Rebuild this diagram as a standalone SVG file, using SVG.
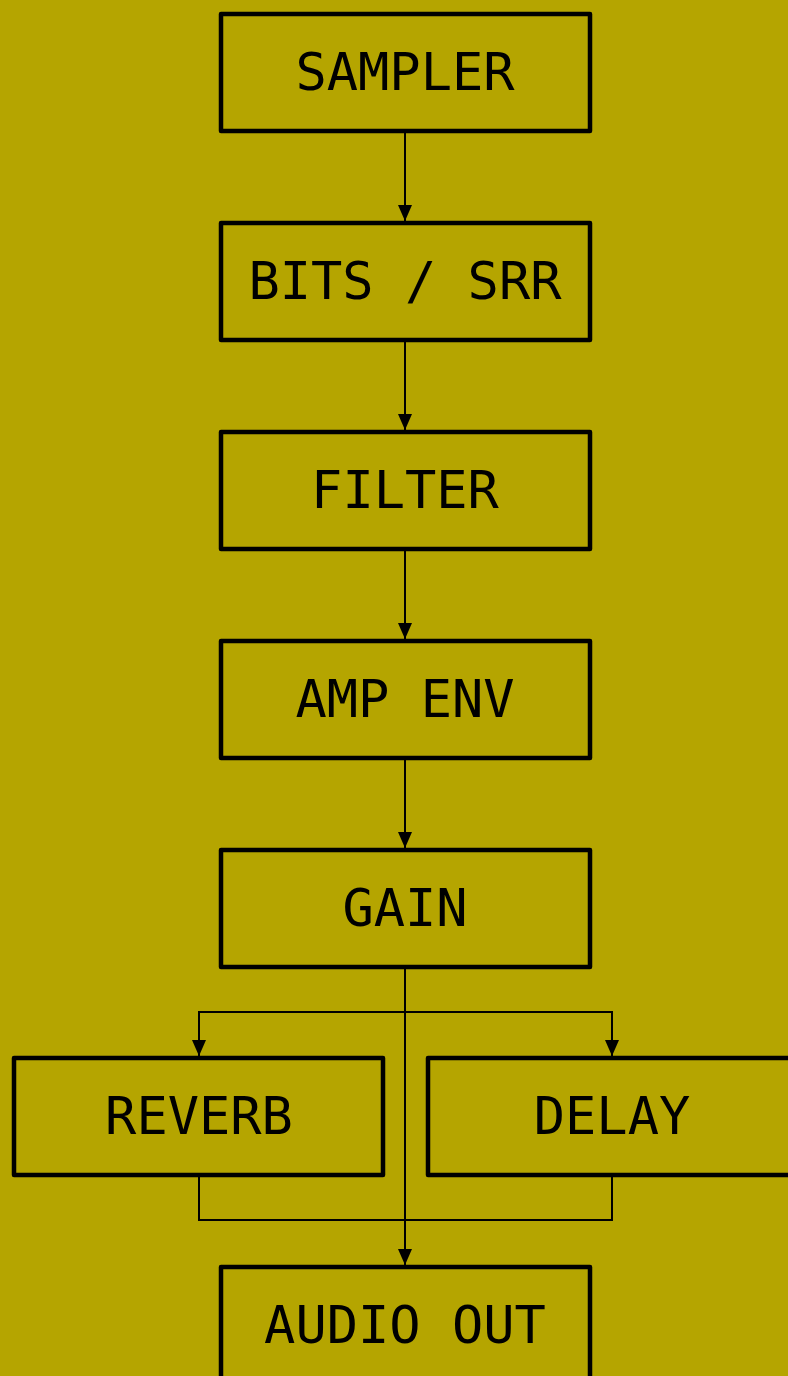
<svg xmlns="http://www.w3.org/2000/svg" width="788" height="1376" viewBox="0 0 788 1376">
<style>
.box{fill:none;stroke:#000;stroke-width:4.5;stroke-linejoin:round}
.lbl{font-family:"DejaVu Sans Mono","Liberation Mono",monospace;font-size:52px;fill:#000;text-anchor:middle}
.c{fill:none;stroke:#000;stroke-width:2}
</style>
<defs>
<marker id="ah" markerUnits="userSpaceOnUse" markerWidth="16" markerHeight="14" refX="16" refY="7" orient="auto" viewBox="0 0 16 14">
<path d="M0,0 L16,7 L0,14 Z" fill="#000"/>
</marker>
</defs>
<rect width="788" height="1376" fill="#b5a500"/>
<g id="connectors">
<line class="c" x1="405" y1="132" x2="405" y2="221" marker-end="url(#ah)"/>
<line class="c" x1="405" y1="341" x2="405" y2="430" marker-end="url(#ah)"/>
<line class="c" x1="405" y1="550" x2="405" y2="639" marker-end="url(#ah)"/>
<line class="c" x1="405" y1="759" x2="405" y2="848" marker-end="url(#ah)"/>
<line class="c" x1="405" y1="968" x2="405" y2="1265" marker-end="url(#ah)"/>
<polyline class="c" points="199,1056 199,1012 612,1012 612,1056"/>
<path d="M192,1040 L206,1040 L199,1056 Z" fill="#000"/>
<path d="M605,1040 L619,1040 L612,1056 Z" fill="#000"/>
<polyline class="c" points="199,1176 199,1220 612,1220 612,1176"/>
</g>
<g id="sampler"><rect class="box" x="221" y="14" width="369" height="117"/><text class="lbl" x="405" y="90">SAMPLER</text></g>
<g id="bits"><rect class="box" x="221" y="223" width="369" height="117"/><text class="lbl" x="405" y="299">BITS / SRR</text></g>
<g id="filter"><rect class="box" x="221" y="432" width="369" height="117"/><text class="lbl" x="405" y="508">FILTER</text></g>
<g id="ampenv"><rect class="box" x="221" y="641" width="369" height="117"/><text class="lbl" x="405" y="717">AMP ENV</text></g>
<g id="gain"><rect class="box" x="221" y="850" width="369" height="117"/><text class="lbl" x="405" y="926">GAIN</text></g>
<g id="reverb"><rect class="box" x="14" y="1058" width="369" height="117"/><text class="lbl" x="199" y="1134">REVERB</text></g>
<g id="delay"><rect class="box" x="428" y="1058" width="369" height="117"/><text class="lbl" x="612" y="1134">DELAY</text></g>
<g id="audioout"><rect class="box" x="221" y="1267" width="369" height="117"/><text class="lbl" x="405" y="1343">AUDIO OUT</text></g>
</svg>
